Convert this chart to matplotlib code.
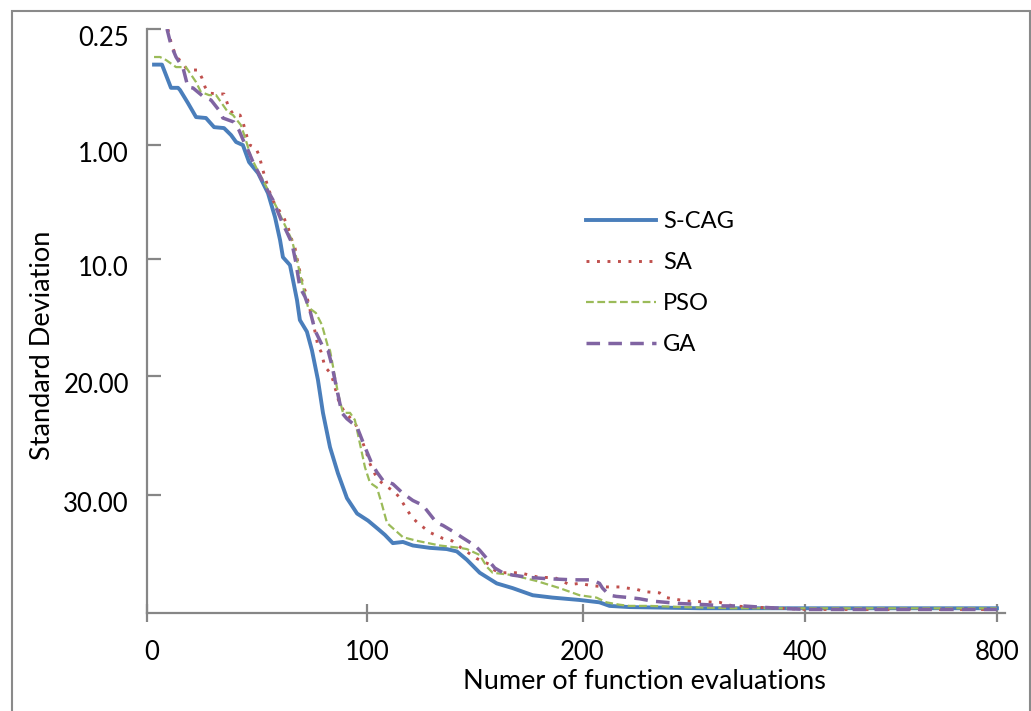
import numpy as np
import matplotlib
matplotlib.use("Agg")
import matplotlib.pyplot as plt
from matplotlib.patches import Rectangle
from matplotlib.transforms import ScaledTranslation

plt.rcParams["font.family"] = ["Lato", "DejaVu Sans"]

# Irregular axes of the original: evenly spaced ticks with uneven values
x_ticks = [0, 100, 200, 400, 800]
x_tick_labels = ["0", "100", "200", "400", "800"]
y_ticks = [0.25, 1.0, 10.0, 20.0, 30.0]
y_tick_labels = ["0.25", "1.00", "10.0", "20.00", "30.00"]

# x (function evaluations) / y (standard deviation)
scag_x = [3.2, 6.8, 10.9, 14.1, 15.0, 18.6, 22.3, 26.8, 30.5, 35.0, 38.2, 40.5, 43.6, 46.4,
          50.5, 55.0, 58.2, 60.5, 61.8, 65.0, 66.4, 68.2, 69.5, 72.7, 75.0, 77.7, 80.0, 83.2,
          86.8, 90.9, 95.5, 100.5, 105.1, 108.3, 112.0, 116.7, 121.3, 129.2, 137.0, 141.7,
          146.3, 152.3, 160.2, 167.6, 176.9, 186.1, 198.6, 215.3, 224.3, 242.3, 305.4, 395.5, 800]
scag_y = [0.48, 0.48, 0.63, 0.63, 0.644, 0.728, 0.819, 0.825, 0.884, 0.89, 0.935, 0.98, 1.0, 2.34,
          3.21, 4.79, 6.68, 8.5, 9.84, 10.5, 11.8, 13.5, 15.2, 16.2, 17.8, 20.3, 23.1, 26.0,
          28.2, 30.3, 31.6, 32.2, 32.9, 33.4, 34.1, 34.0, 34.3, 34.5, 34.6, 34.8,
          35.5, 36.6, 37.5, 37.9, 38.5, 38.7, 38.9, 39.1, 39.4, 39.5, 39.6, 39.6, 39.6]

sa_x = [9.5, 10.9, 13.2, 15.9, 17.7, 20.9, 23.2, 25.0, 26.4, 28.2, 32.3, 35.0, 37.3, 39.5, 42.3,
        43.6, 45.5, 46.8, 49.5, 50.9, 52.7, 53.6, 56.8, 62.3, 64.1, 65.9, 67.3, 68.6, 70.9, 72.3,
        75.5, 77.7, 79.1, 80.9, 83.2, 84.5, 87.3, 90.0, 92.3, 94.5, 96.8, 99.5, 101.4, 104.6,
        107.4, 113.0, 115.3, 119.0, 120.8, 123.6, 129.2, 135.2, 139.4, 144.4, 147.7, 150.9,
        156.9, 159.3, 163.0, 170.8, 180.1, 187.0, 190.3, 194.0, 198.6, 209.0, 221.6, 233.3,
        240.5, 248.6, 255.9, 269.4, 275.7, 281.1, 294.6, 323.4, 335.1, 353.2, 377.5, 404.2, 800]
sa_y = [0.25, 0.334, 0.43, 0.463, 0.502, 0.515, 0.515, 0.567, 0.625, 0.664, 0.67, 0.67, 0.761,
        0.806, 0.806, 0.851, 0.948, 1.0, 1.24, 1.79, 2.97, 3.53, 5.26, 6.76, 7.47, 8.5, 9.13,
        10.3, 12.2, 12.9, 15.4, 17.4, 17.9, 19.2, 19.7, 20.3, 22.2, 23.1, 23.5, 23.9, 25.0,
        26.3, 27.4, 28.6, 29.1, 29.8, 30.3, 31.4, 31.9, 32.4, 33.2, 33.7, 33.9, 34.6, 35.0,
        35.4, 35.9, 36.4, 36.6, 36.6, 37.0, 37.0, 37.3, 37.6, 37.5, 37.7, 37.8, 37.8, 37.9,
        38.0, 38.2, 38.3, 38.7, 38.8, 39.0, 39.1, 39.4, 39.5, 39.6, 39.7, 39.7]

pso_x = [3.2, 5.9, 8.6, 13.2, 17.7, 22.3, 24.5, 28.2, 31.4, 33.6, 36.8, 39.1, 42.7, 44.5, 47.3,
         50.9, 52.3, 55.0, 59.1, 62.7, 65.9, 68.2, 70.5, 73.2, 76.8, 79.5, 82.3, 83.2, 86.8,
         89.1, 92.3, 94.5, 96.8, 99.1, 101.4, 104.6, 106.9, 109.3, 113.0, 116.7, 123.1, 133.8,
         143.1, 146.3, 152.3, 155.6, 158.3, 167.6, 178.7, 189.4, 198.6, 212.6, 221.6, 233.3,
         242.3, 260.4, 290.1, 335.1, 800]
pso_y = [0.431, 0.431, 0.45, 0.496, 0.496, 0.593, 0.657, 0.677, 0.677, 0.722, 0.787, 0.806,
         0.871, 0.948, 1.95, 3.21, 3.61, 4.55, 5.97, 7.32, 8.5, 10.1, 12.0, 14.1, 14.6, 15.6,
         17.5, 17.8, 21.4, 23.1, 23.1, 23.7, 25.7, 27.7, 29.0, 29.4, 30.8, 32.4, 33.0, 33.6,
         33.9, 34.3, 34.5, 34.6, 35.1, 36.1, 36.6, 36.8, 37.3, 37.9, 38.5, 38.7, 39.1, 39.3,
         39.4, 39.4, 39.5, 39.6, 39.6]

ga_x = [9.1, 10.9, 13.2, 16.4, 18.6, 20.9, 25.9, 29.1, 32.7, 34.5, 39.5, 41.8, 44.1, 45.9, 48.2,
        50.5, 52.7, 57.3, 61.4, 63.6, 65.9, 67.7, 69.5, 71.8, 74.1, 76.4, 80.0, 82.3, 84.1,
        86.4, 88.6, 90.9, 95.5, 99.1, 102.3, 104.6, 107.4, 112.0, 116.7, 121.3, 125.9, 132.4,
        135.2, 140.7, 144.0, 150.0, 152.3, 155.6, 159.3, 163.0, 167.6, 175.5, 183.3, 195.4,
        209.0, 215.3, 218.0, 224.3, 230.6, 242.3, 251.4, 263.1, 287.4, 311.7, 326.1, 344.1,
        359.5, 377.5, 404.2, 800]
ga_y = [0.25, 0.353, 0.431, 0.502, 0.625, 0.631, 0.69, 0.709, 0.774, 0.825, 0.851, 0.903, 0.98,
        1.39, 2.34, 3.13, 3.92, 5.34, 7.08, 7.87, 8.74, 10.3, 12.4, 13.2, 14.4, 16.1, 17.5,
        17.8, 19.1, 21.2, 23.1, 23.6, 24.3, 26.0, 27.4, 28.1, 28.8, 29.1, 29.9, 30.5, 30.9,
        32.4, 32.6, 33.2, 33.6, 34.3, 34.7, 35.4, 36.2, 36.6, 36.8, 37.0, 37.1, 37.2, 37.2,
        37.5, 37.9, 38.5, 38.6, 38.7, 38.8, 39.0, 39.2, 39.3, 39.4, 39.4, 39.5, 39.6, 39.7, 39.7]

# piecewise scales so that the uneven tick values sit at even spacing
X_KNOTS = [0, 100, 200, 400, 800, 900]
X_POS = [0, 1.0, 1.98, 2.99, 3.864, 4.08]
Y_KNOTS = [0.25, 1.0, 10.0, 20.0, 30.0, 40.0]
Y_POS = [0, 1.0, 1.983, 2.99, 4.01, 5.03]


def x_fwd(v):
    return np.interp(v, X_KNOTS, X_POS)


def x_inv(p):
    return np.interp(p, X_POS, X_KNOTS)


def y_fwd(v):
    return np.interp(v, Y_KNOTS, Y_POS)


def y_inv(p):
    return np.interp(p, Y_POS, Y_KNOTS)


W, H = 1031, 711
fig = plt.figure(figsize=(W / 100, H / 100), dpi=100)
ax = fig.add_axes([147 / W, 1 - 613 / H, (1005 - 147) / W, (613 - 29) / H])

ax.set_xscale("function", functions=(x_fwd, x_inv))
ax.set_yscale("function", functions=(y_fwd, y_inv))

ax.plot(scag_x, scag_y, color="#4A7EBB", lw=2.8, label="S-CAG", solid_joinstyle="round")
ax.plot(sa_x, sa_y, color="#C0504D", lw=2.1, dashes=(1, 2.6), label="SA")
ax.plot(pso_x, pso_y, color="#9BBB59", lw=1.6, dashes=(3.5, 1.6), label="PSO")
ax.plot(ga_x, ga_y, color="#8064A2", lw=2.5, dashes=(3.9, 2.4), label="GA")

ax.set_xlim(0, 817)
ax.set_ylim(40, 0.25)

grey = "#868686"
for side in ["top", "right"]:
    ax.spines[side].set_visible(False)
for side in ["left", "bottom"]:
    ax.spines[side].set_color(grey)
    ax.spines[side].set_linewidth(1.6)

ax.set_xticks(x_ticks)
ax.set_xticklabels(x_tick_labels)
ax.set_yticks(y_ticks)
ax.set_yticklabels(y_tick_labels)
ax.minorticks_off()
ax.tick_params(axis="x", direction="inout", length=13, width=1.6, color=grey,
               labelsize=18.5, pad=13)
ax.tick_params(axis="y", direction="in", length=10, width=1.6, color=grey,
               labelsize=18.5, pad=13)
for lab in ax.get_yticklabels():
    lab.set_transform(lab.get_transform() + ScaledTranslation(0, -7 / 100, fig.dpi_scale_trans))
ax.get_xticklabels()[0].set_transform(
    ax.get_xticklabels()[0].get_transform() + ScaledTranslation(5 / 100, 0, fig.dpi_scale_trans))

ax.set_xlabel("Numer of function evaluations", fontsize=19.5)
ax.xaxis.label.set_va("center")
ax.xaxis.set_label_coords(0.58, -0.118)
ax.set_ylabel("Standard Deviation", fontsize=19.5)
ax.yaxis.label.set_va("center")
ax.yaxis.set_label_coords(-0.122, 0.459)

fig.legend(loc="upper left", bbox_to_anchor=(586 / W, 1 - 211 / H), frameon=False,
           fontsize=17, handlelength=2.95, handletextpad=0.3, labelspacing=0.85,
           borderpad=0, borderaxespad=0)

# outer frame of the original picture
fig.patches.append(Rectangle((12 / W, -0.05), (1030 - 12) / W, 1.05 - 11 / H,
                             transform=fig.transFigure, fill=False, edgecolor="#8a8a8a",
                             lw=1.5))

fig.savefig("out.png", dpi=100)
